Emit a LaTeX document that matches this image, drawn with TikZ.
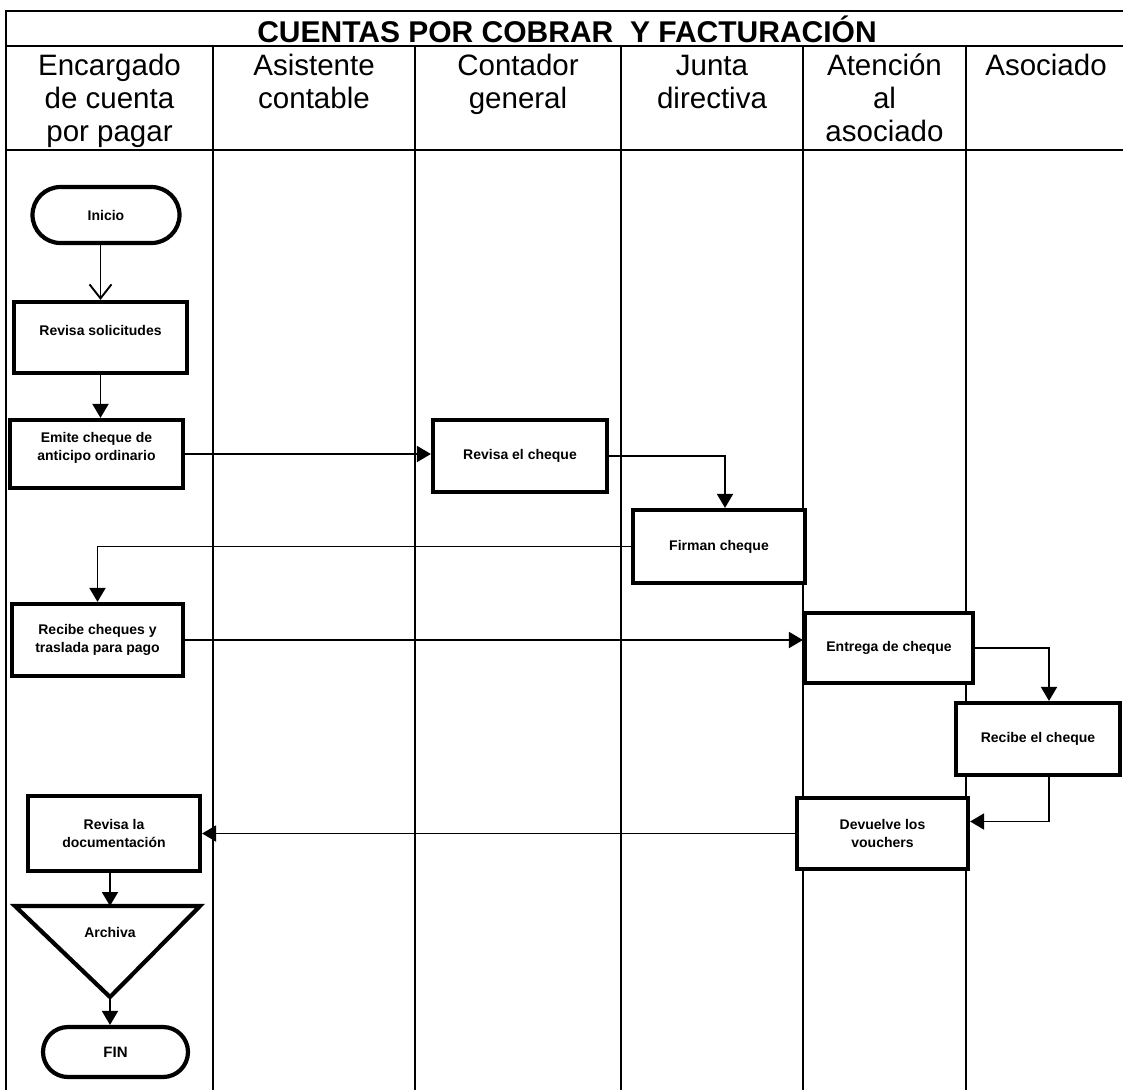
\documentclass[tikz,border=0pt]{standalone}
\usepackage{fontspec}
\setmainfont{Liberation Sans}
\usetikzlibrary{arrows.meta,calc}

\begin{document}
\begin{tikzpicture}[x=1pt,y=-1pt,
  laneline/.style={line width=2pt},
  lanehead/.style={anchor=north,inner sep=0pt,align=center,font=\fontsize{29.5}{33}\selectfont},
  stepbox/.style={draw,fill=white,line width=4.2pt,inner sep=0pt,align=center,
    font=\fontsize{14}{18}\selectfont\bfseries},
  terminal/.style={stepbox,rounded corners=#1},
  flow/.style={line width=1.9pt,-{Triangle[length=14pt,width=16pt]}},
  openflow/.style={line width=1.9pt,-{Straight Barb[length=14pt,width=22pt]}}
]
\useasboundingbox (0,0) rectangle (1123,1090);

% frame, title row and header row
\draw[laneline] (6,1090) -- (6,11) -- (1123,11);
\draw[laneline] (6,46) -- (1123,46);
\draw[laneline] (6,150) -- (1123,150);
\foreach \x in {213,415,621,803,966}
  \draw[laneline] (\x,46) -- (\x,1090);

\node[anchor=base,inner sep=0pt,font=\fontsize{30}{33}\selectfont\bfseries]
  (title) at (567,42) {CUENTAS POR COBRAR\ \ Y FACTURACIÓN};

\newcommand{\firstline}{\rule{0pt}{23pt}}
\node[lanehead] (h1) at (109.5,52) {\firstline Encargado\\de cuenta\\por pagar};
\node[lanehead] (h2) at (314,52) {\firstline Asistente\\contable};
\node[lanehead] (h3) at (518,52) {\firstline Contador\\general};
\node[lanehead] (h4) at (712,52) {\firstline Junta\\directiva};
\node[lanehead] (h5) at (884.5,52) {\firstline Atención\\al\\asociado};
\node[lanehead] (h6) at (1046,52) {\firstline Asociado};

% process steps
\node[terminal=28pt,minimum width=147pt,minimum height=56pt] (ini) at (106,215) {Inicio};
\node[stepbox,minimum width=173pt,minimum height=71pt] (rs) at (100.5,337.5) {Revisa solicitudes\\[-4pt]};
\node[stepbox,minimum width=173pt,minimum height=68pt] (emi) at (96.5,454) {Emite cheque de\\anticipo ordinario\\[-2pt]};
\node[stepbox,minimum width=174pt,minimum height=72pt] (rch) at (520,456) {Revisa el cheque};
\node[stepbox,minimum width=172pt,minimum height=73pt] (fir) at (719,546.5) {Firman cheque};
\node[stepbox,minimum width=171pt,minimum height=72pt] (rec) at (97.5,640) {Recibe cheques y\\traslada para pago};
\node[stepbox,minimum width=168pt,minimum height=70pt] (ent) at (889,648) {Entrega de cheque};
\node[stepbox,minimum width=164pt,minimum height=72pt] (rcq) at (1038,739) {Recibe el cheque};
\node[stepbox,minimum width=171pt,minimum height=71pt] (dev) at (882.5,833.5) {Devuelve los\\vouchers};
\node[stepbox,minimum width=172pt,minimum height=75pt] (rdoc) at (114,833.5) {Revisa la\\documentación};

% archive triangle
\coordinate (tl) at (15,906);
\coordinate (tr) at (200,906);
\coordinate (tip) at (110,997);
\draw[line width=4.2pt,line join=miter,fill=white] (tl) -- (tr) -- (tip) -- cycle;
\node[inner sep=0pt,font=\fontsize{14}{18}\selectfont\bfseries] (arch) at (110,932) {Archiva};

\node[terminal=25pt,minimum width=145pt,minimum height=50pt,font=\fontsize{15}{18}\selectfont\bfseries] (fin) at (115.5,1052) {FIN};

% connectors
\draw[openflow] (ini.south -| rs.north) -- (rs.north);
\draw[flow] (rs.south) -- (rs.south |- emi.north);
\draw[flow] (emi.east) -- (emi.east -| rch.west);
\draw[flow] (rch.east) -| ($(fir.north)+(6,0)$);
\draw[flow] (fir.west) -| (rec.north);
\draw[flow] (rec.east) -- (rec.east -| ent.west);
\draw[flow] (ent.east) -| ($(rcq.north)+(11,0)$);
\draw[flow] ($(rcq.south)+(11,0)$) |- ($(dev.east)+(0,-12)$);
\draw[flow] (dev.west) -- (dev.west -| rdoc.east);
\draw[flow] (rdoc.south -| tip) -- (tl -| tip);
\draw[flow] (tip) -- (tip |- fin.north);
\end{tikzpicture}
\end{document}
